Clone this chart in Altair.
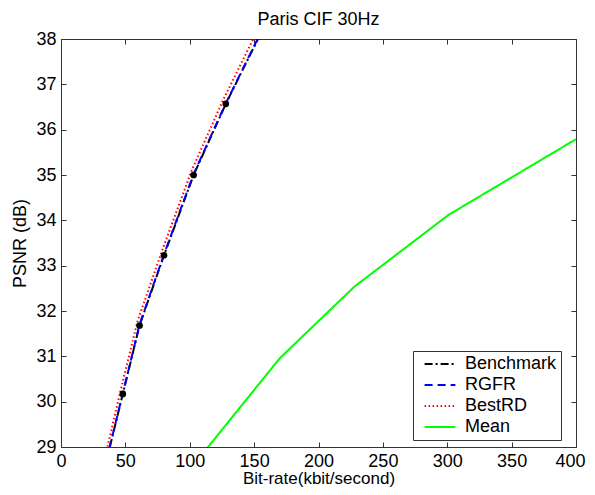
import altair as alt
import pandas as pd

series_names = ["Benchmark", "RGFR", "BestRD", "Mean"]
series_colors = ["#000000", "#0000ff", "#ff0000", "#00ff00"]
series_dash = [[8, 3, 2, 3], [8, 5], [1.5, 2.5], [1, 0]]
series_width = [2, 2, 1.5, 2]

bench_rate = [35, 48, 61, 80, 103, 128, 160]
bench_psnr = [28.66, 30.17, 31.68, 33.23, 35.00, 36.57, 38.40]
rgfr_rate = [35, 48, 61, 80, 103, 128, 160]
rgfr_psnr = [28.68, 30.18, 31.70, 33.25, 35.02, 36.58, 38.42]
bestrd_rate = [34, 46.5, 59.5, 78.5, 101.5, 126, 158]
bestrd_psnr = [28.75, 30.27, 31.78, 33.33, 35.10, 36.66, 38.50]
mean_rate = [100, 170, 228, 301, 400]
mean_psnr = [28.5, 30.96, 32.54, 34.12, 35.79]

x_ticks = [0, 50, 100, 150, 200, 250, 300, 350, 400]
y_ticks = [29, 30, 31, 32, 33, 34, 35, 36, 37, 38]

rows = []
for name, xs, ys in [
    ("Benchmark", bench_rate, bench_psnr),
    ("RGFR", rgfr_rate, rgfr_psnr),
    ("BestRD", bestrd_rate, bestrd_psnr),
    ("Mean", mean_rate, mean_psnr),
]:
    for i, (a, b) in enumerate(zip(xs, ys)):
        rows.append({"series": name, "rate": a, "psnr": b, "idx": i})
df = pd.DataFrame(rows)
df_bench = df[df.series == "Benchmark"]

FONT = "Liberation Sans"
AX = "#333333"

xscale = alt.Scale(domain=[0, 400], nice=False, zero=False)
yscale = alt.Scale(domain=[29, 38], nice=False, zero=False)

common = dict(labelFont=FONT, labelFontSize=18, labelColor="black", labelFlush=False,
              titleFont=FONT, titleColor="black", titleFontWeight="normal",
              tickColor=AX, domain=False, grid=False, tickSize=5, offset=-5)

x_bottom = alt.Axis(values=x_ticks, orient="bottom", labelPadding=5,
                    labelOffset={"condition": {"test": "datum.value == 400", "value": -6}, "value": 0},
                    title="Bit-rate(kbit/second)", titlePadding=0, titleFontSize=17, **common)
y_left = alt.Axis(values=y_ticks, orient="left", labelPadding=5,
                  title="PSNR (dB)", titlePadding=6, titleFontSize=18, **common)
x_top = alt.Axis(values=x_ticks, orient="top", labels=False, title=None, **common)
y_right = alt.Axis(values=y_ticks, orient="right", labels=False, title=None, **common)

legend = alt.Legend(
    title=None, orient="none", legendX=352, legendY=312,
    symbolType="M-2.2,0L2.2,0", symbolSize=196, symbolOffset=14, labelOffset=16,
    padding=4, rowPadding=3, fillColor="white", strokeColor="#333333",
    labelFont=FONT, labelFontSize=18, labelColor="black",
)

lines = alt.Chart(df).mark_line(clip=True).encode(
    x=alt.X("rate:Q", scale=xscale, axis=x_bottom),
    y=alt.Y("psnr:Q", scale=yscale, axis=y_left),
    color=alt.Color("series:N", scale=alt.Scale(domain=series_names, range=series_colors), legend=legend),
    strokeDash=alt.StrokeDash("series:N", scale=alt.Scale(domain=series_names, range=series_dash), legend=legend),
    strokeWidth=alt.StrokeWidth("series:N", scale=alt.Scale(domain=series_names, range=series_width), legend=legend),
    order="idx:Q",
)

points = alt.Chart(df_bench).mark_point(filled=True, clip=True, size=45, color="black", opacity=1).encode(
    x=alt.X("rate:Q", scale=xscale, axis=x_top),
    y=alt.Y("psnr:Q", scale=yscale, axis=y_right),
)

chart = alt.layer(lines, points).resolve_axis(x="independent", y="independent").properties(
    width=515, height=408,
    background="white",
    title=alt.TitleParams("Paris CIF 30Hz", font=FONT, fontSize=18, fontWeight="normal", color="black", offset=1),
    autosize=alt.AutoSizeParams(type="none"),
    padding={"left": 53, "top": 31, "right": 11, "bottom": 40},
).configure_view(stroke=AX, strokeWidth=1)

chart.save("out.html", embed_options={"renderer": "svg", "actions": False})
